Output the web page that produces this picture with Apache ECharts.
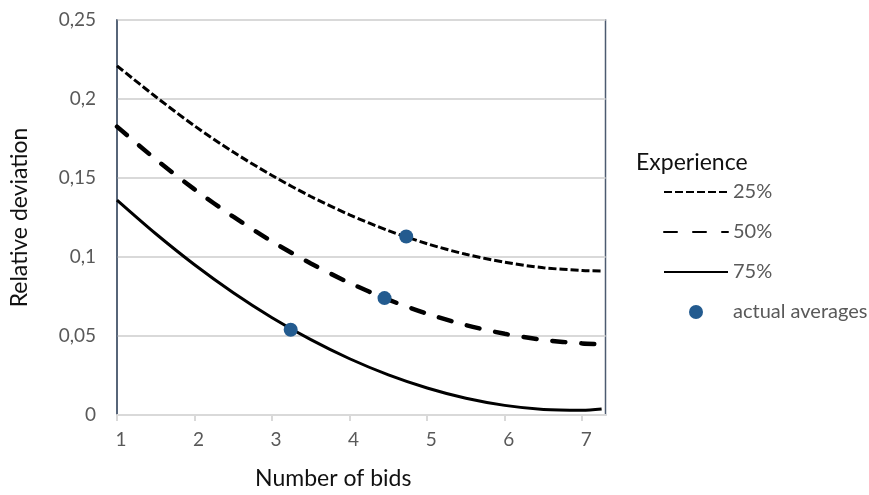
<!DOCTYPE html>
<html>
<head>
<meta charset="utf-8">
<script src="https://cdn.jsdelivr.net/npm/echarts@6/dist/echarts.min.js"></script>
<style>html,body{margin:0;padding:0;background:#fff}#c{width:869px;height:495px}</style>
</head>
<body>
<div id="c"></div>
<script>
var bids = [1, 1.5, 2, 2.5, 3, 3.5, 4, 4.5, 5, 5.5, 6, 6.5, 7, 7.25];
var exp25 = [0.221, 0.2014, 0.183, 0.1664, 0.1516, 0.1383, 0.1267, 0.1167, 0.1084, 0.1017, 0.0967, 0.0932, 0.0915, 0.0912];
var exp50 = [0.1825, 0.1618, 0.1428, 0.1255, 0.1098, 0.0959, 0.0836, 0.073, 0.0641, 0.0569, 0.0514, 0.0475, 0.0453, 0.0449];
var exp75 = [0.136, 0.1147, 0.0951, 0.0774, 0.0616, 0.0477, 0.0356, 0.0254, 0.0171, 0.0106, 0.0061, 0.0035, 0.003, 0.0038];
var avgX = [4.73, 4.45, 3.24];
var avgY = [0.113, 0.074, 0.054];
var seriesNames = ['25%', '50%', '75%', 'actual averages'];

function pairs(xs, ys) { return xs.map(function (x, i) { return [x, ys[i]]; }); }

var font = 'Lato, "Open Sans", sans-serif';
var noSym = { color: 'rgba(0,0,0,0)', opacity: 0 };
var chart = echarts.init(document.getElementById('c'));
chart.setOption({
  animation: false,
  textStyle: { fontFamily: font },
  title: {
    text: 'Experience', left: 631, top: 146,
    textStyle: { fontFamily: font, fontSize: 23, fontWeight: 'normal', color: '#111' }
  },
  legend: {
    orient: 'vertical', left: 658, top: 176,
    itemWidth: 64, itemHeight: 14, itemGap: 18,
    data: [
      { name: seriesNames[0], itemStyle: noSym },
      { name: seriesNames[1], itemStyle: noSym },
      { name: seriesNames[2], itemStyle: noSym },
      { name: seriesNames[3] }
    ],
    textStyle: { fontFamily: font, fontSize: 20, color: '#595959', lineHeight: 22 }
  },
  grid: {
    left: 111, top: 20, right: 263.5, bottom: 80,
    show: true, borderColor: '#4d5b70', borderWidth: 1.5, backgroundColor: '#fff'
  },
  xAxis: {
    type: 'value', min: 1, max: 7.3, interval: 1,
    name: 'Number of bids', nameLocation: 'middle', nameGap: 52,
    nameTextStyle: { fontFamily: font, fontSize: 23, color: '#111', padding: [0, 56, 0, 0] },
    axisLine: { show: true, lineStyle: { color: '#d9d9d9', width: 2 } },
    axisTick: { show: true, length: 6, lineStyle: { color: '#d9d9d9', width: 2 } },
    splitLine: { show: false },
    axisLabel: {
      margin: 15, fontSize: 19, color: '#595959', fontFamily: font, showMaxLabel: false,
      padding: [0, 0, 0, 8],
      formatter: function (v) { return Math.abs(v - Math.round(v)) < 1e-6 ? String(Math.round(v)) : ''; }
    }
  },
  yAxis: {
    type: 'value', min: 0, max: 0.25, interval: 0.05,
    name: 'Relative deviation', nameLocation: 'middle', nameGap: 86, nameRotate: 90,
    nameTextStyle: { fontFamily: font, fontSize: 23, color: '#111' },
    axisLine: { show: true, lineStyle: { color: '#4d5b70', width: 1.5 } },
    axisTick: { show: false },
    splitLine: { show: true, lineStyle: { color: '#d9d9d9', width: 2 } },
    axisLabel: {
      margin: 21, fontSize: 19, color: '#595959', fontFamily: font,
      formatter: function (v) { return v === 0 ? '0' : String(+v.toFixed(2)).replace('.', ','); }
    }
  },
  series: [
    { name: seriesNames[0], type: 'line', data: pairs(bids, exp25), smooth: 0.3, symbol: 'none',
      lineStyle: { color: '#000', width: 3, type: [8, 3] }, itemStyle: noSym },
    { name: seriesNames[1], type: 'line', data: pairs(bids, exp50), smooth: 0.3, symbol: 'none',
      lineStyle: { color: '#000', width: 4.5, type: [13, 16], cap: 'round' }, itemStyle: noSym },
    { name: seriesNames[2], type: 'line', data: pairs(bids, exp75), smooth: 0.3, symbol: 'none',
      lineStyle: { color: '#000', width: 3 }, itemStyle: noSym },
    { name: seriesNames[3], type: 'scatter', data: pairs(avgX, avgY), symbol: 'circle', symbolSize: 14,
      itemStyle: { color: '#235b8f', opacity: 1 }, z: 5 }
  ]
});
</script>
</body>
</html>
